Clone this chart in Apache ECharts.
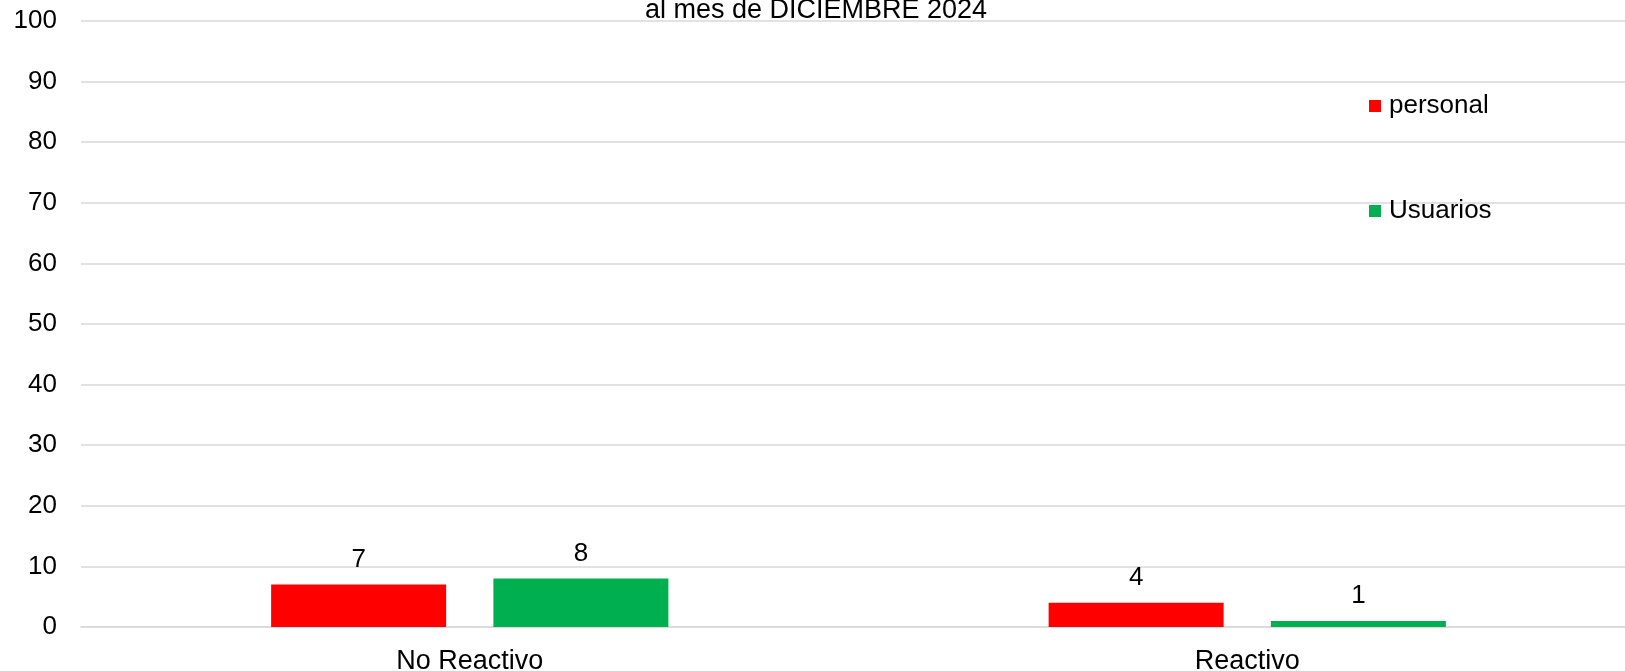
<!DOCTYPE html>
<html>
<head>
<meta charset="utf-8">
<script src="https://cdn.jsdelivr.net/npm/echarts@6/dist/echarts.min.js"></script>
<style>
html,body{margin:0;padding:0;background:#fff;}
#chart{width:1625px;height:671px;}
</style>
</head>
<body>
<div id="chart"></div>
<script>
const categories = ['No Reactivo', 'Reactivo'];
const personal = [7, 4];
const usuarios = [8, 1];
const titleText = 'al mes de DICIEMBRE 2024';

const FONT = '"Liberation Sans", Arial, sans-serif';
const chart = echarts.init(document.getElementById('chart'));
chart.setOption({
  animation: false,
  backgroundColor: '#ffffff',
  title: {
    text: titleText,
    left: 645,
    top: -3,
    padding: 0,
    textStyle: { fontFamily: FONT, fontSize: 27, fontWeight: 'normal', color: '#000' }
  },
  legend: [
    {
      data: ['personal'],
      left: 1369, top: 93, padding: 0,
      itemWidth: 12, itemHeight: 12,
      icon: 'rect',
      textStyle: { fontFamily: FONT, fontSize: 26, color: '#000', padding: [0, 0, 0, 3] }
    },
    {
      data: ['Usuarios'],
      left: 1369, top: 198, padding: 0,
      itemWidth: 12, itemHeight: 12,
      icon: 'rect',
      textStyle: { fontFamily: FONT, fontSize: 26, color: '#000', padding: [0, 0, 0, 3] }
    }
  ],
  grid: { left: 81, width: 1555, top: 21, bottom: 44, containLabel: false, outerBoundsMode: 'none' },
  xAxis: {
    type: 'category',
    data: categories,
    axisLine: { lineStyle: { color: '#d9d9d9', width: 1.5 } },
    axisTick: { show: false },
    axisLabel: { fontFamily: FONT, fontSize: 27, color: '#000', margin: 21 }
  },
  yAxis: {
    type: 'value',
    min: 0, max: 100, interval: 10,
    axisLine: { show: false },
    axisTick: { show: false },
    splitLine: { lineStyle: { color: '#d9d9d9', width: 1.5 } },
    axisLabel: { fontFamily: FONT, fontSize: 26, color: '#000', margin: 24 }
  },
  series: [
    {
      name: 'personal', type: 'bar', data: personal,
      barWidth: 175, barGap: '27%',
      itemStyle: { color: '#ff0000' },
      label: { show: true, position: 'top', distance: 12, fontFamily: FONT, fontSize: 26, color: '#000' }
    },
    {
      name: 'Usuarios', type: 'bar', data: usuarios,
      barWidth: 175, barGap: '27%',
      itemStyle: { color: '#00b050' },
      label: { show: true, position: 'top', distance: 12, fontFamily: FONT, fontSize: 26, color: '#000' }
    }
  ]
});
</script>
</body>
</html>
